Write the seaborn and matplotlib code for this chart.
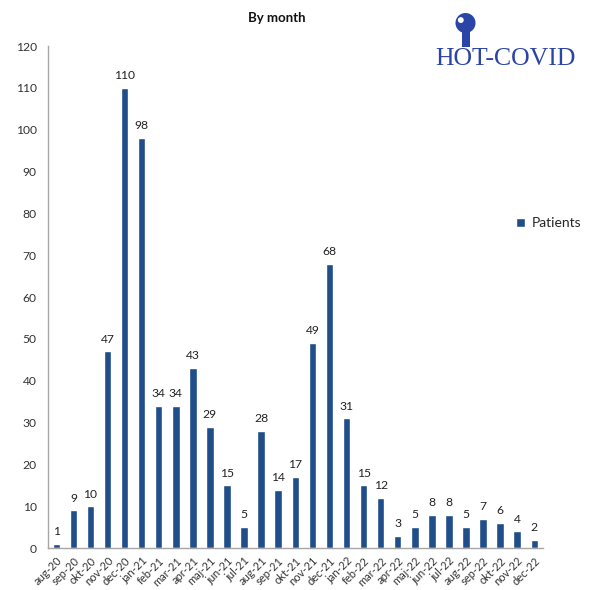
import numpy as np
import pandas as pd
import matplotlib.pyplot as plt
import seaborn as sns
from matplotlib.patches import Circle, Rectangle

# monthly patient counts
months = ['aug-20', 'sep-20', 'okt-20', 'nov-20', 'dec-20', 'jan-21', 'feb-21', 'mar-21',
          'apr-21', 'maj-21', 'jun-21', 'jul-21', 'aug-21', 'sep-21', 'okt-21', 'nov-21',
          'dec-21', 'jan-22', 'feb-22', 'mar-22', 'apr-22', 'maj-22', 'jun-22', 'jul-22',
          'aug-22', 'sep-22', 'okt-22', 'nov-22', 'dec-22']
patients = [1, 9, 10, 47, 110, 98, 34, 34, 43, 29, 15, 5, 28, 14, 17, 49,
            68, 31, 15, 12, 3, 5, 8, 8, 5, 7, 6, 4, 2]
y_ticks = list(range(0, 130, 10))

BAR = '#1F4E8A'
GRID = '#A6A6A6'

sns.set_style('white')
plt.rcParams['font.family'] = ['Lato', 'DejaVu Sans']

df = pd.DataFrame({'month': months, 'patients': patients})

fig = plt.figure(figsize=(5.9, 5.9), dpi=100)
ax = fig.add_axes([0.081, 0.071, 0.839, 0.851])

sns.barplot(data=df, x='month', y='patients', color=BAR, width=0.44,
            saturation=1, ax=ax, label='Patients')

for i, v in enumerate(patients):
    ax.text(i, v + 1.6, str(v), ha='center', va='bottom', fontsize=8.7, color='#222222')

ax.set_xlim(-0.5, len(months) - 0.5)
ax.set_ylim(0, 120)
ax.set_yticks(y_ticks)
ax.set_yticklabels([str(t) for t in y_ticks], fontsize=8.7, color='#333333')
ax.set_xticks(range(len(months)))
ax.set_xticklabels(months, rotation=45, ha='right', rotation_mode='anchor',
                   fontsize=8, color='#333333')
ax.tick_params(axis='x', which='major', length=0, pad=5)
ax.set_xticks(np.arange(-0.5, len(months)), minor=True)
ax.tick_params(axis='x', which='minor', length=4, color=GRID, direction='out')
ax.tick_params(axis='y', length=4, color=GRID, direction='out', pad=4)
ax.set_xlabel('')
ax.set_ylabel('')

for side in ['top', 'right']:
    ax.spines[side].set_visible(False)
for side in ['left', 'bottom']:
    ax.spines[side].set_color(GRID)
    ax.spines[side].set_linewidth(1)

fig.text(0.469, 0.969, 'By month', fontsize=9.5, fontweight='bold',
         ha='center', va='center', color='#111111')

ax.legend(loc='center left', bbox_to_anchor=(0.866, 0.622),
          bbox_transform=fig.transFigure, frameon=False, fontsize=10,
          handlelength=0.6, handleheight=0.6, handletextpad=0.5, borderaxespad=0)

# HOT-COVID logo, top right
logo = '#2B45A6'
fig.text(0.737, 0.890, 'HOT-COVID', fontsize=18.5, color=logo,
         family='Liberation Serif', va='baseline', ha='left')
fig.add_artist(Rectangle((0.783, 0.921), 0.013, 0.026, transform=fig.transFigure,
                         color=logo, lw=0))
fig.add_artist(Circle((0.789, 0.961), 0.017, transform=fig.transFigure, color=logo, lw=0))
fig.add_artist(Circle((0.781, 0.966), 0.005, transform=fig.transFigure, color='white', lw=0))

fig.savefig('out.png', dpi=100)
